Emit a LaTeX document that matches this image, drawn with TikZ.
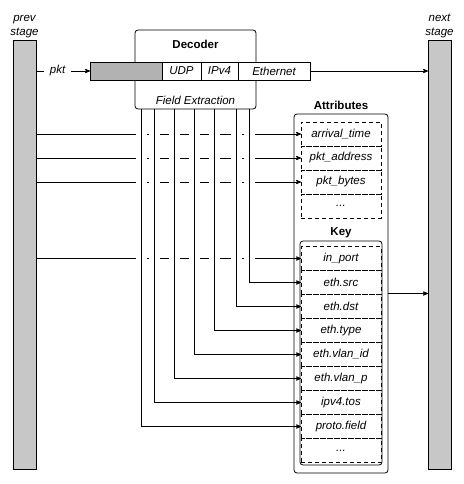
\documentclass[tikz,border=0pt]{standalone}
\usepackage{fontspec}
\setmainfont{Liberation Sans}
\usetikzlibrary{arrows,positioning}
\tikzset{
    %Define standard arrow tip
    >=stealth',
    %Define style for the stage bars
    stagebar/.style={
           rectangle,
           draw=black, thick,
           fill=black!22,
           minimum width=23pt,
           minimum height=429pt,
           inner sep=0pt, outer sep=0pt},
    stagelabel/.style={
           align=center,
           inner sep=0pt,
           font=\fontsize{11.5}{13.5}\selectfont\itshape},
    %Define style for boxes
    decoder/.style={
           rectangle,
           rounded corners=3pt,
           draw=black, thick,
           minimum width=121pt,
           minimum height=79pt,
           inner sep=0pt, outer sep=0pt},
    title/.style={
           inner sep=0pt,
           font=\fontsize{11.5}{13.5}\selectfont\bfseries},
    caption/.style={
           inner sep=0pt,
           font=\fontsize{11.5}{13.5}\selectfont\itshape},
    pktbody/.style={
           rectangle,
           draw=black, thick,
           fill=black!30,
           minimum width=72pt,
           minimum height=18pt,
           inner sep=0pt, outer sep=0pt},
    hdr/.style={
           rectangle,
           draw=black, thick,
           fill=white,
           minimum height=18pt,
           inner sep=0pt, outer sep=0pt,
           font=\fontsize{11.5}{13.5}\selectfont\itshape},
    record/.style={
           rectangle,
           rounded corners=3pt,
           draw=black, thick,
           minimum width=94pt,
           minimum height=359pt,
           inner sep=0pt, outer sep=0pt},
    keybox/.style={
           rectangle,
           rounded corners=3pt,
           draw=black, thick,
           minimum width=82pt,
           minimum height=224pt,
           inner sep=0pt, outer sep=0pt},
    row/.style={
           rectangle,
           draw=black, thick,
           dash pattern=on 4pt off 3pt,
           minimum width=80pt,
           minimum height=24pt,
           inner sep=0pt, outer sep=0pt,
           font=\fontsize{11.5}{13.5}\selectfont\itshape},
    % Define arrow style
    tap/.style={
           ->,
           thick,
           preaction={draw=white, -, line width=11pt,
                      shorten <=1.5pt, shorten >=10pt}}
}
\begin{document}
\begin{tikzpicture}[x=1pt,y=-1pt,thick]
\useasboundingbox (0,0) rectangle (463,484);
\node[stagebar](prev) at (24.5,254.5) {};
\node[stagebar](next) at (439.5,254.5) {};
\node[stagelabel, above=2pt of prev] {prev\\stage};
\node[stagelabel, above=2pt of next] {next\\stage};

% decoder and packet
\node[decoder](dec) at (195.5,69.5) {};
\node[title] at (195.5,44) {Decoder};
\node[caption] at (195.5,100) {Field Extraction};
\node[pktbody](body) at (126,71) {};
\node[hdr, right=0pt of body, minimum width=39pt](udp) {UDP};
\node[hdr, right=0pt of udp, minimum width=37pt](ipv4) {IPv4};
\node[hdr, right=0pt of ipv4, minimum width=72pt](eth) {Ethernet};

% packet record
\node[record](rec) at (341,293.5) {};
\node[title] at (341,105) {Attributes};
\node[row](atime) at (341,134) {arrival\_time};
\node[row, below=0pt of atime](paddr) {pkt\_address};
\node[row, below=0pt of paddr](pbytes) {pkt\_bytes};
\node[row, below=0pt of pbytes](amore) {...};
\node[title] at (341,233) {Key};
\node[keybox](key) at (341,353) {};
\node[row](inport) at (341,258.5) {in\_port};
\node[row, below=0pt of inport](esrc) {eth.src};
\node[row, below=0pt of esrc](edst) {eth.dst};
\node[row, below=0pt of edst](etype) {eth.type};
\node[row, below=0pt of etype](evid) {eth.vlan\_id};
\node[row, below=0pt of evid](evp) {eth.vlan\_p};
\node[row, below=0pt of evp](itos) {ipv4.tos};
\node[row, below=0pt of itos](pfield) {proto.field};
\node[row, below=0pt of pfield](kmore) {...};

\draw[->] (prev.east |- body) -- node[pos=0.4, fill=white, inner xsep=6pt, inner ysep=1pt,
    font=\fontsize{11.5}{13.5}\selectfont\itshape]{pkt} (body.west);
\draw[->] (eth.east) -- (eth.east -| next.west);
\path[->]
	(prev.east |- atime) edge (atime.west)
	(prev.east |- paddr) edge (paddr.west)
	(prev.east |- pbytes) edge (pbytes.west)
	(prev.east |- inport) edge (inport.west);
\foreach \dx/\f in {114/esrc,101/edst,79/etype,59/evid,39/evp,19/itos,6/pfield}
	\draw[tap] ([xshift=\dx pt]dec.south west) |- (\f.west);
\draw[->] (rec.east) -- (rec.east -| next.west);
\end{tikzpicture}
\end{document}
